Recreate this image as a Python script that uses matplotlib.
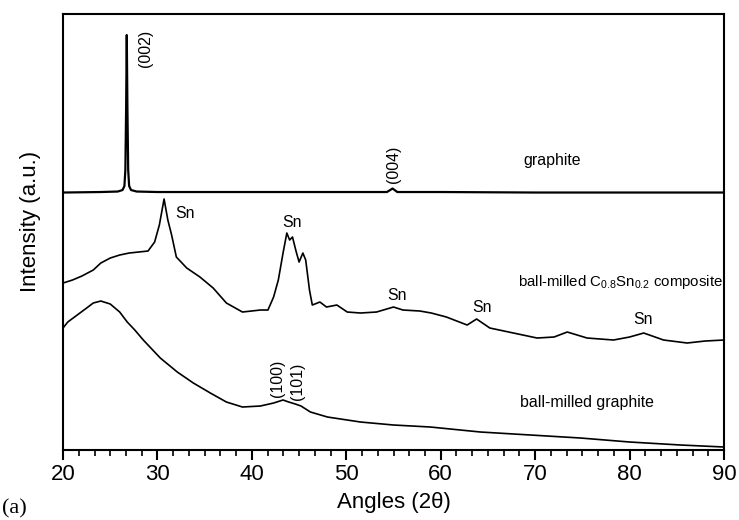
import matplotlib
matplotlib.use("Agg")
import matplotlib.pyplot as plt
from matplotlib.ticker import MultipleLocator

plt.rcParams['font.family'] = ['Liberation Sans', 'DejaVu Sans']
plt.rcParams['mathtext.default'] = 'regular'

# pristine graphite (stacked on top)
graphite_2theta = [20, 24, 25.8, 26.3, 26.5, 26.6, 26.68, 26.75, 26.82, 26.9, 27.0, 27.2, 27.8,
                   30, 40, 50, 54.3, 54.9, 55.4, 60, 70, 80, 90]
graphite_int = [257.5, 258, 258.5, 260, 264, 280, 340, 415, 340, 280, 264, 260, 258.5,
                258, 258, 258, 258, 261.5, 258, 258, 257.5, 257.5, 257.5]

# ball-milled C0.8Sn0.2 composite (middle)
composite_2theta = [20, 21, 22, 23.2, 24, 25, 26, 27, 28, 29, 29.7, 30.2, 30.7, 31.1, 31.5, 32,
                    33.1, 34.5, 35.9, 37.3, 39, 40.9, 41.7, 42.3, 42.8, 43.3, 43.7, 44.0, 44.3,
                    44.7, 45.0, 45.4, 45.7, 46.1, 46.4, 47.2, 47.9, 49, 50.1, 51.5, 53.2, 55,
                    56, 57.8, 59, 60.6, 62.8, 63.8, 65.2, 67.7, 70.2, 72, 73.4, 75.5, 78.3, 80,
                    81.5, 83.6, 86.1, 88, 90]
composite_int = [167, 170, 174, 180, 187, 192, 195, 197, 198, 199, 208, 225, 251, 230, 215, 193,
                 182, 173, 162, 147, 138, 140, 140, 153, 170, 197, 217, 210, 213,
                 198, 188, 197, 190, 160, 145, 148, 143, 145, 138, 137, 138, 143,
                 140, 139, 137, 133, 125, 131, 122, 117, 112, 113, 118, 112, 110, 113,
                 117, 110, 107, 109, 110]

# ball-milled graphite (bottom)
milled_2theta = [20, 20.5, 21.5, 22.5, 23.2, 24, 25, 26, 26.8, 27.6, 28.5, 29.4, 30.3, 31.2,
                 32.1, 33.8, 35.6, 37.3, 39, 40.9, 42.3, 43.3, 43.9, 44.6, 45.2, 46.2, 48,
                 51.5, 55, 58.9, 64.2, 69.5, 74.8, 80, 85.4, 90]
milled_int = [122, 128, 135, 142, 147, 149, 146, 138, 128, 120, 110, 101, 92, 85,
              78, 67, 57, 48, 43, 44, 47, 50, 48, 46, 44, 38, 33,
              28, 25, 23, 18, 15, 12, 8, 5, 3]

fig = plt.figure(figsize=(7.39, 5.20), dpi=100)
ax = fig.add_axes([0.0853, 0.1346, 0.8944, 0.8384])

ax.plot(graphite_2theta, graphite_int, color='black', lw=1.6)
ax.plot(composite_2theta, composite_int, color='black', lw=1.2)
ax.plot(milled_2theta, milled_int, color='black', lw=1.2)

ax.set_xlim(20, 90)
ax.set_ylim(0, 436)
ax.xaxis.set_major_locator(MultipleLocator(10))
ax.xaxis.set_minor_locator(MultipleLocator(10 / 6))
ax.set_yticks([])
ax.tick_params(axis='x', which='major', direction='out', length=7, width=1.5,
               labelsize=16, pad=3)
ax.tick_params(axis='x', which='minor', direction='out', length=4, width=1.2)
for sp in ax.spines.values():
    sp.set_linewidth(1.5)

ax.set_xlabel('Angles (2\u03b8)', fontsize=16, labelpad=5)
fig.text(0.041, 0.575, 'Intensity (a.u.)', rotation=90, fontsize=16,
         ha='center', va='center')
fig.text(0.003, 0.003, '(a)', fontsize=16, family='Liberation Serif',
         ha='left', va='bottom')

fs = 11.4
ax.text(28.7, 402, '(002)', rotation=90, fontsize=fs, ha='center', va='center')
ax.text(55.0, 286, '(004)', rotation=90, fontsize=fs, ha='center', va='center')
ax.text(71.8, 290, 'graphite', fontsize=fs, ha='center', va='center')
ax.text(32.9, 237, 'Sn', fontsize=fs, ha='center', va='center')
ax.text(44.3, 228, 'Sn', fontsize=fs, ha='center', va='center')
ax.text(55.4, 155, 'Sn', fontsize=fs, ha='center', va='center')
ax.text(64.4, 143, 'Sn', fontsize=fs, ha='center', va='center')
ax.text(81.4, 131, 'Sn', fontsize=fs, ha='center', va='center')
ax.text(89.9, 168, 'ball-milled C$_{0.8}$Sn$_{0.2}$ composite',
        fontsize=10.8, ha='right', va='center')
ax.text(68.4, 48, 'ball-milled graphite', fontsize=fs, ha='left', va='center')
ax.text(42.7, 72, '(100)', rotation=90, fontsize=fs, ha='center', va='center')
ax.text(44.8, 69, '(101)', rotation=90, fontsize=fs, ha='center', va='center')

fig.savefig('out.png', dpi=100)
